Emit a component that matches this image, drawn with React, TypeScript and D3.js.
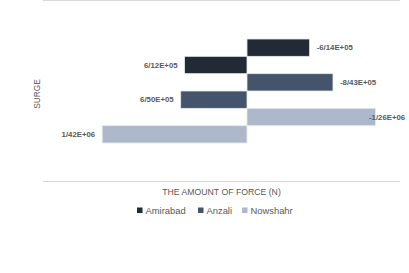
import * as d3 from 'd3';

const stations = ['Amirabad', 'Anzali', 'Nowshahr'];
const negForce = [-614000, -843000, -1260000];
const posForce = [612000, 650000, 1420000];
const negLabels = ['-6/14E+05', '-8/43E+05', '-1/26E+06'];
const posLabels = ['6/12E+05', '6/50E+05', '1/42E+06'];
const colors = ['#222a35', '#44546a', '#adb9ca'];

interface Row {
  key: string;
  station: number;
  value: number;
  label: string;
}

const rows: Row[] = stations.flatMap((s, i) => [
  { key: s + '-neg', station: i, value: negForce[i], label: negLabels[i] },
  { key: s + '-pos', station: i, value: posForce[i], label: posLabels[i] },
]);

export default function App() {
  const width = 409;
  const height = 273;
  const left = 43;
  const right = 400;

  const x = d3.scaleLinear().domain([2000000, -1500000]).range([left, right]);
  const y = d3.scaleBand<string>().domain(rows.map((r) => r.key)).range([39, 143]).padding(0);
  const x0 = x(0);
  const font = "'Liberation Sans', Arial, sans-serif";
  const textCol = '#595959';

  const legendX = [137, 198, 242];

  return (
    <svg
      width={width}
      height={height}
      style={{ position: 'absolute', left: 0, top: 0, background: '#fff' }}
      fontFamily={font}
    >
      {/* top border + category axis */}
      <line x1={left} x2={right} y1={0.5} y2={0.5} stroke="#d9d9d9" strokeWidth={1} />
      <line x1={left} x2={right} y1={181.5} y2={181.5} stroke="#d9d9d9" strokeWidth={1} />

      {rows.map((r) => {
        const xv = x(r.value);
        const bx = Math.min(xv, x0);
        const bw = Math.abs(xv - x0);
        const by = y(r.key) ?? 0;
        const neg = r.value < 0;
        let lx = neg ? xv + 7 : xv - 7;
        if (neg && lx + 30 > 399) lx = 399 - 30;
        return (
          <g key={r.key}>
            <rect
              x={bx}
              y={by}
              width={bw}
              height={y.bandwidth()}
              fill={colors[r.station]}
              stroke="#e6e9ee"
              strokeWidth={0.8}
            />
            <text
              x={lx}
              y={by + y.bandwidth() / 2}
              dy="0.35em"
              textAnchor={neg ? 'start' : 'end'}
              fontSize={7.8}
              fontWeight="bold"
              fill={textCol}
            >
              {r.label}
            </text>
          </g>
        );
      })}

      <text
        transform={`translate(40, 94) rotate(-90)`}
        textAnchor="middle"
        fontSize={8.3}
        fill={textCol}
      >
        SURGE
      </text>

      <text x={221.5} y={195} textAnchor="middle" fontSize={8.7} fill={textCol}>
        THE AMOUNT OF FORCE (N)
      </text>

      {stations.map((s, i) => (
        <g key={s}>
          <rect x={legendX[i]} y={207.5} width={5.5} height={5.5} fill={colors[i]} />
          <text x={legendX[i] + 8.5} y={210.5} dy="0.35em" fontSize={9.4} fill={textCol}>
            {s}
          </text>
        </g>
      ))}
    </svg>
  );
}
